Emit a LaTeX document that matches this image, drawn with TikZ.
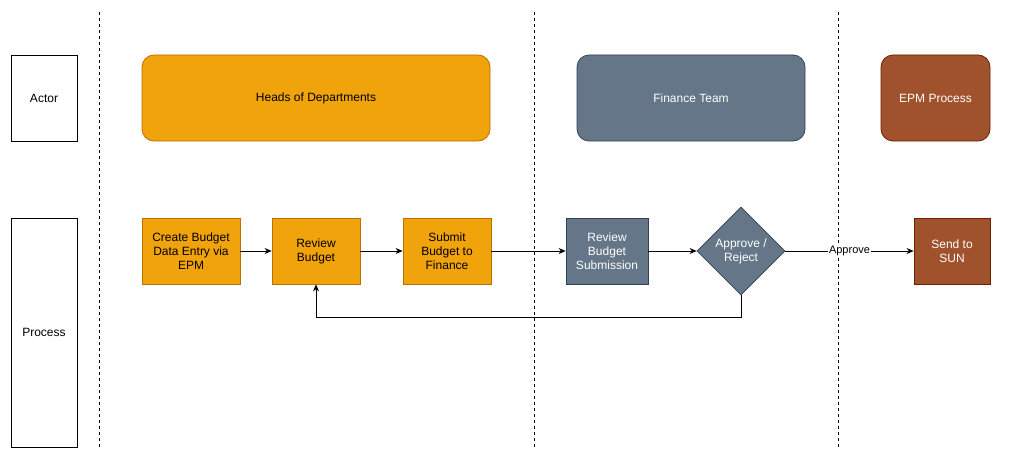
\documentclass[tikz,border=0pt]{standalone}
\usepackage{fontspec}
\setmainfont{Liberation Sans}
\usetikzlibrary{shapes.geometric,arrows.meta}
\definecolor{org}{HTML}{F0A30A}\definecolor{orgb}{HTML}{BD7000}
\definecolor{gry}{HTML}{647687}\definecolor{gryb}{HTML}{314354}
\definecolor{brn}{HTML}{A0522D}\definecolor{brnb}{HTML}{6D1F00}
\begin{document}
\begin{tikzpicture}[x=1pt,y=-1pt,
  txt/.style={font=\fontsize{12}{14}\selectfont,align=center},
  box/.style={txt,draw,line width=0.8pt,inner sep=0pt},
  ob/.style={box,fill=org,draw=orgb},
  gb/.style={box,fill=gry,draw=gryb,text=white},
  bb/.style={box,fill=brn,draw=brnb,text=white},
  arr/.style={-{Stealth[length=7pt,width=6pt]},line width=0.8pt},
  sep/.style={dashed,line width=0.8pt}]
\useasboundingbox[fill=white] (0,0) rectangle (1024,460);
\foreach \x/\n in {99/a,534/b,838/c}{\draw[sep] (\x,12) -- (\x,448);}
\node[box,minimum width=66pt,minimum height=86pt] (actor) at (44,98) {Actor};
\node[box,minimum width=66pt,minimum height=229pt] (proc) at (44,332.5) {Process};
\node[ob,rounded corners=12pt,minimum width=348pt,minimum height=86pt] (hod) at (316,98) {Heads of Departments};
\node[gb,rounded corners=12pt,minimum width=228pt,minimum height=86pt] (fin) at (691,98) {Finance Team};
\node[bb,rounded corners=12pt,minimum width=109pt,minimum height=86pt] (epm) at (935.5,98) {EPM Process};
\node[ob,minimum width=98pt,minimum height=66pt] (create) at (191,251) {Create Budget\\Data Entry via\\EPM};
\node[ob,minimum width=88pt,minimum height=66pt] (review) at (316,251) {Review\\Budget};
\node[ob,minimum width=88pt,minimum height=66pt] (submit) at (447,251) {Submit\\Budget to\\Finance};
\node[gb,minimum width=82pt,minimum height=66pt] (rbs) at (607,251) {Review\\Budget\\Submission};
\node[gb,diamond,minimum width=88pt,minimum height=88pt,inner sep=0pt] (dec) at (741,251) {Approve /\\Reject};
\node[bb,minimum width=76pt,minimum height=66pt] (sun) at (952,251) {Send to\\SUN};
\draw[arr] (create) -- (review);
\draw[arr] (review) -- (submit);
\draw[arr] (submit) -- (rbs);
\draw[arr] (rbs) -- (dec);
\draw[arr] (dec) -- node[fill=white,inner sep=1pt,font=\fontsize{11}{13}\selectfont]{Approve} (sun);
\coordinate (c1) at (741,317);
\coordinate (c2) at (316,317);
\draw[arr] (dec.south) -- (c1) -- (c2) -- (review.south);
\end{tikzpicture}
\end{document}
